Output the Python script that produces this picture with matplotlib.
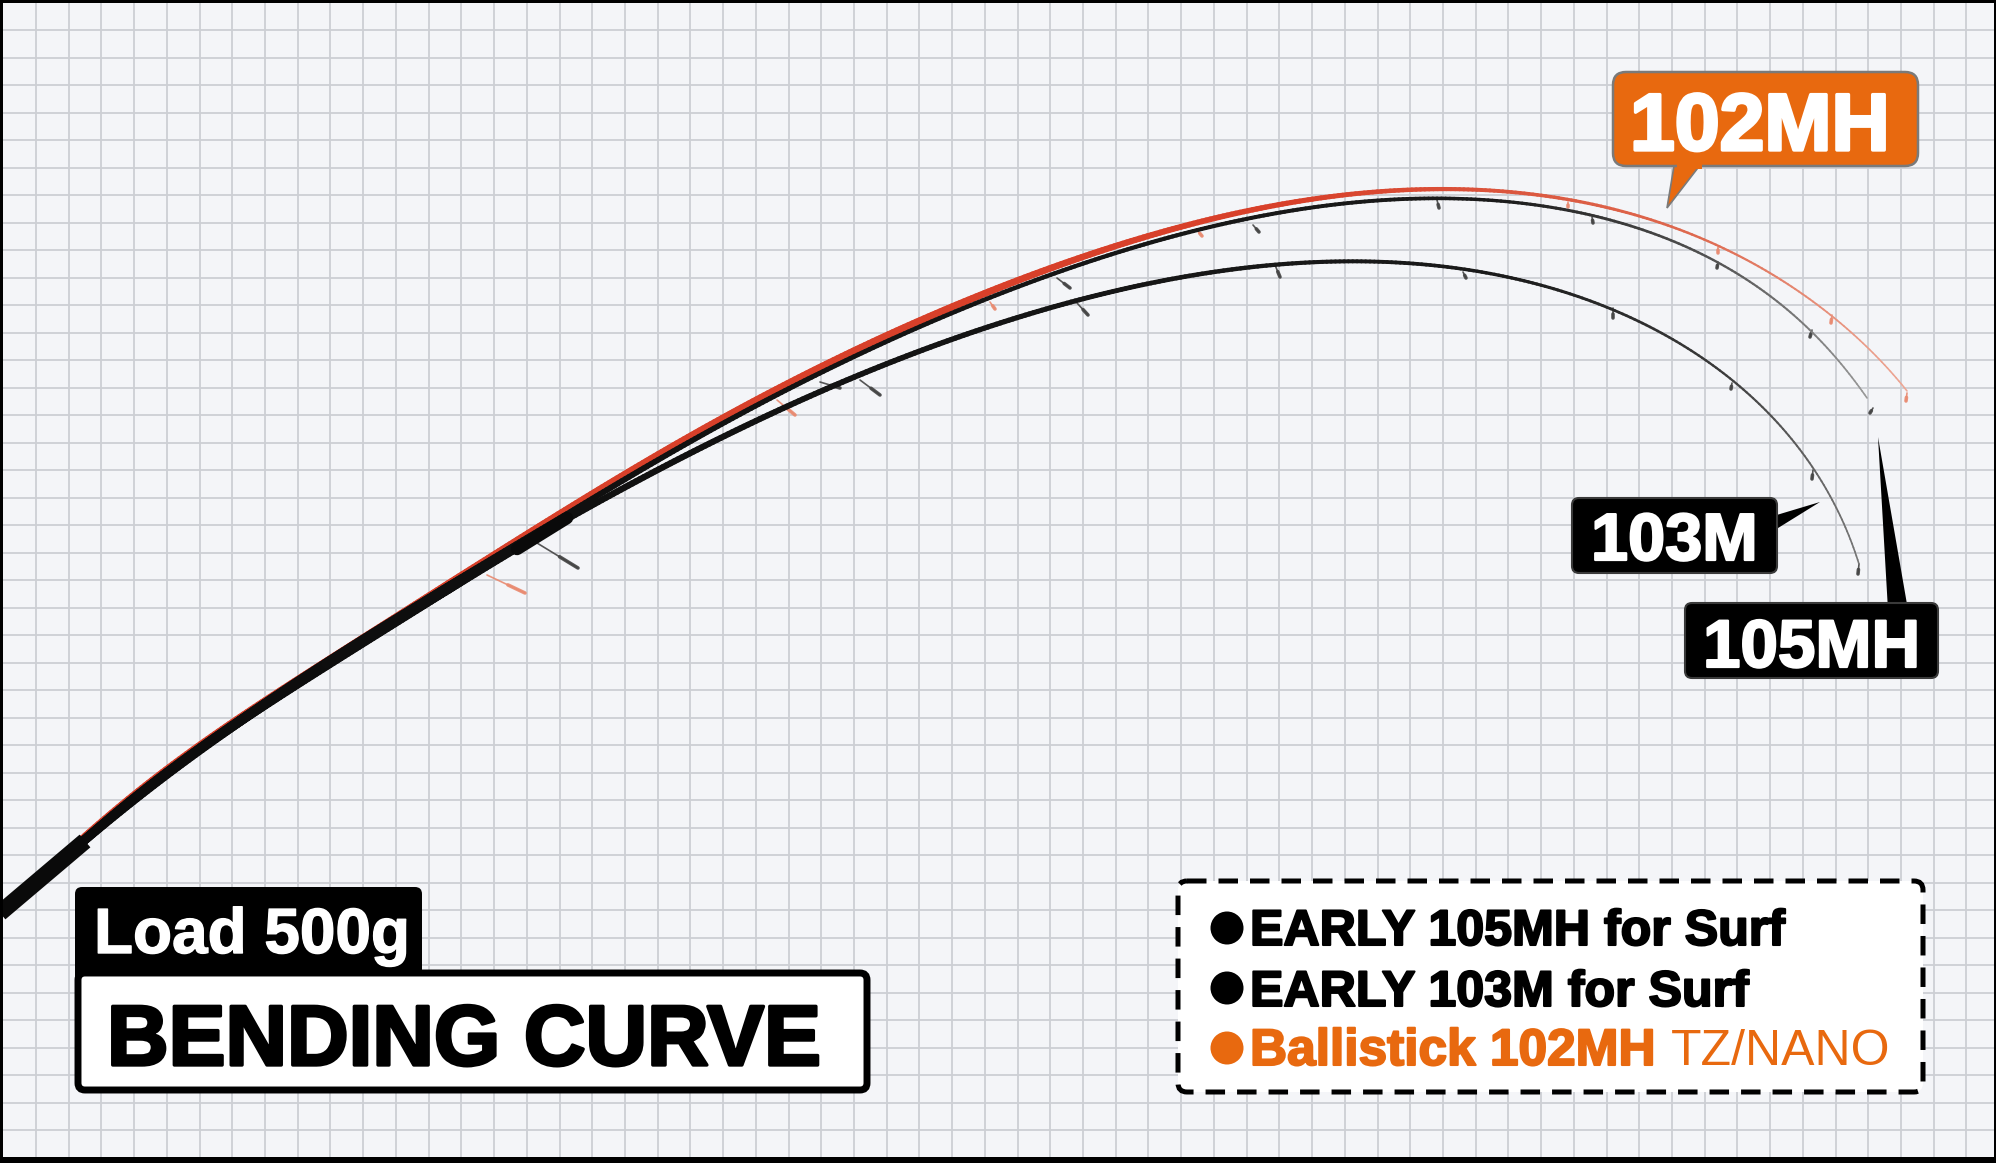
import numpy as np
import matplotlib
matplotlib.use("Agg")
import matplotlib.pyplot as plt
import matplotlib.patheffects as pe
from matplotlib.collections import LineCollection
from matplotlib.colors import to_rgb
from matplotlib.patches import FancyBboxPatch, Polygon, Circle, Rectangle
from numpy.polynomial import Chebyshev

# ---- values (image pixel coordinates) ----
trunk_x = [0, 50, 83, 133, 233, 333, 400, 450, 517]
trunk_y = [912, 867, 842, 803, 723, 660, 618, 587, 547]

red_x = [567, 650, 717, 783, 850, 900, 983, 1067, 1150, 1220, 1267, 1333, 1400, 1450, 1520, 1567, 1633, 1667, 1717, 1767, 1830, 1867, 1907]
red_y = [514, 455, 418, 387, 357, 331, 295, 260, 235, 217, 206, 197, 191, 190, 193, 200, 212, 223, 247, 273, 315, 345, 391]

upper_x = [567, 650, 717, 783, 840, 900, 983, 1067, 1150, 1220, 1267, 1333, 1400, 1467, 1520, 1567, 1600, 1667, 1717, 1767, 1810, 1850, 1867]
upper_y = [519, 459, 423, 393, 365, 338, 301, 267, 241, 226, 215, 205, 199, 199, 203, 210, 218, 238, 262, 293, 332, 373, 398]

lower_x = [573, 650, 717, 783, 850, 900, 983, 1067, 1150, 1220, 1267, 1333, 1367, 1433, 1483, 1550, 1610, 1667, 1717, 1753, 1800, 1833, 1850, 1859]
lower_y = [518, 473, 438, 408, 380, 360, 327, 303, 285, 270, 266, 261, 261, 265, 272, 290, 308, 335, 368, 399, 450, 500, 540, 564]

handle_x = [0, 85]
handle_y = [913, 841]

black_guides = [
    (537, 543, 578, 568), (860, 380, 880, 395), (820, 382, 840, 388), (1057, 278, 1070, 288),
    (1077, 303, 1088, 315), (1253, 225, 1259, 232), (1437, 200, 1439, 208), (1275, 265, 1280, 277),
    (1463, 272, 1466, 278), (1592, 217, 1593, 223), (1718, 262, 1717, 268), (1812, 330, 1810, 337),
    (1613, 308, 1613, 318), (1732, 383, 1731, 389), (1813, 470, 1812, 479), (1859, 564, 1858, 574),
    (1873, 408, 1870, 413),
]
red_guides = [
    (487, 575, 525, 593), (777, 400, 795, 415), (990, 302, 995, 309), (1197, 230, 1202, 236),
    (1568, 202, 1568, 207), (1718, 247, 1718, 253), (1832, 315, 1831, 323), (1907, 393, 1906, 401),
]

legend_bold = ["EARLY 105MH for Surf", "EARLY 103M for Surf", "Ballistick 102MH"]
legend_light = "TZ/NANO"
callouts = ["102MH", "103M", "105MH"]
title = "BENDING CURVE"
load = "Load 500g"

ORANGE = "#E8690F"
BG = "#F4F5F8"
GRID = "#CDCFD4"
BOLD = "Liberation Sans"

fig = plt.figure(figsize=(20, 11.63), dpi=100)
ax = fig.add_axes([0, 0, 1, 1])
ax.set_xlim(0, 2000)
ax.set_ylim(1163, 0)
ax.set_facecolor(BG)
ax.set_xticks(np.arange(36, 1995, 32.72))
ax.set_yticks(np.arange(30, 1157, 27.5))
ax.tick_params(length=0, labelbottom=False, labelleft=False)
ax.grid(True, color=GRID, lw=1.3, zorder=0)
ax.set_axisbelow(True)
for s in ax.spines.values():
    s.set_visible(False)


def smooth(x, y, deg=10, n=500):
    """Smooth least-squares path through the read points, for drawing only."""
    x = np.asarray(x, float)
    y = np.asarray(y, float)
    s = np.r_[0, np.cumsum(np.hypot(np.diff(x), np.diff(y)))]
    w = np.ones_like(s)
    w[0] = w[-1] = 4
    t = np.linspace(0, s[-1], n)
    return np.column_stack([Chebyshev.fit(s, x, deg, w=w)(t), Chebyshev.fit(s, y, deg, w=w)(t)])


def rod(x, y, wx, wpx, cx, cols, z):
    pts = smooth(x, y)
    segs = np.stack([pts[:-1], pts[1:]], axis=1)
    mx = segs[:, :, 0].mean(axis=1)
    lw = np.interp(mx, wx, wpx) * 0.72
    rgb = np.array([to_rgb(c) for c in cols])
    col = np.column_stack([np.interp(mx, cx, rgb[:, i]) for i in range(3)])
    ax.add_collection(LineCollection(segs, linewidths=lw, colors=col, capstyle="round", zorder=z))


w_x = [0, 450, 570, 900, 1400, 1700, 1870]
rod(trunk_x + red_x, [v - 3 for v in trunk_y] + red_y, w_x, [7, 9, 8.5, 7.5, 4.5, 2.4, 1.6],
    [0, 1300, 1700, 1910], ["#D8402A", "#D8402A", "#DE6A50", "#EDA896"], 3)
rod(trunk_x + upper_x, trunk_y + upper_y, w_x, [9, 11, 6, 4.5, 3.8, 2.4, 1.6],
    [0, 1500, 1720, 1870], ["#0A0A0A", "#1A1A1A", "#555555", "#999999"], 4)
rod(trunk_x + lower_x, trunk_y + lower_y, w_x, [9, 11, 6.5, 5.5, 3.8, 2.4, 1.6],
    [0, 1500, 1720, 1860], ["#0A0A0A", "#1A1A1A", "#3A3A3A", "#777777"], 4)
ax.plot(handle_x, handle_y, color="#0A0A0A", lw=12, solid_capstyle="butt", zorder=5)
ax.plot([517, 567], [549, 518], color="#0A0A0A", lw=9, solid_capstyle="round", zorder=4)

for guides, col, alpha in ((red_guides, "#E98A70", 0.9), (black_guides, "#444444", 0.9)):
    for x0, y0, x1, y1 in guides:
        ax.plot([x0, x1], [y0, y1], color=col, lw=1.2, alpha=alpha, zorder=2, solid_capstyle="round")
        ax.plot([x0 * 0.45 + x1 * 0.55, x1], [y0 * 0.45 + y1 * 0.55, y1], color=col, lw=2.6, alpha=alpha, zorder=2, solid_capstyle="round")


def box(x0, y0, x1, y1, fc, ec, lw, r=8, z=6, **kw):
    p = FancyBboxPatch((x0 + r, y0 + r), x1 - x0 - 2 * r, y1 - y0 - 2 * r,
                       boxstyle=f"round,pad={r},rounding_size={r}", fc=fc, ec=ec, lw=lw, zorder=z, **kw)
    ax.add_patch(p)


def label(x, y, s, size, color, stroke=1.0, family=BOLD, weight="bold", z=8):
    return ax.text(x, y, s, fontsize=size, color=color, family=family, weight=weight, ha="left", va="baseline", zorder=z,
                   path_effects=[pe.withStroke(linewidth=stroke, foreground=color)] if stroke else None)


# title block
box(75, 887, 422, 985, "#000000", "#000000", 0, r=7)
label(94, 953, load, 46, "white", 1.0)
box(78, 973, 867, 1090, "white", "#000000", 5, r=7, z=7)
label(107, 1065, title, 61.4, "#000000", 2.4)

# legend
box(1178, 881, 1923, 1092, "white", "#000000", 3.6, r=9, linestyle=(0, (3.9, 2.4)))
for cy, c in zip((928, 988, 1048), ("#000000", "#000000", ORANGE)):
    ax.add_patch(Circle((1227, cy), 16.5, fc=c, ec="none", zorder=8))
for by, s, c, sz in zip((945, 1006, 1065), legend_bold, ("#000000", "#000000", ORANGE), (36.1, 36.1, 37)):
    label(1250, by, s, sz, c, 1.5)
label(1671, 1065, legend_light, 36, ORANGE, 0, family=["Liberation Sans Narrow", "Liberation Sans"], weight="normal")

# callouts
ax.add_patch(Polygon([(1675, 160), (1667, 208), (1704, 160)], fc=ORANGE, ec="#7A7A7A", lw=1.2, zorder=5))
box(1613, 72, 1918, 166, ORANGE, "#7A7A7A", 1.8, r=13, z=6)
ax.add_patch(Rectangle((1677, 160), 25, 9, fc=ORANGE, ec="none", zorder=7))
label(1630, 150, callouts[0], 58, "white", 2.4)

ax.add_patch(Polygon([(1770, 517), (1820, 502), (1770, 533)], fc="#000000", ec="none", zorder=5))
box(1572, 498, 1777, 573, "#000000", "#3A3A3A", 1.5, r=7)
label(1591, 560, callouts[1], 48, "white", 1.6)

ax.add_patch(Polygon([(1878, 437), (1888, 610), (1908, 610)], fc="#000000", ec="none", zorder=5))
box(1685, 603, 1938, 678, "#000000", "#3A3A3A", 1.5, r=7)
label(1703, 667, callouts[2], 48.5, "white", 1.6)

# frame: black edge, then a thin white sliver at the far right
for xy, w, h, c in (((0, 0), 1996, 3, "#000000"), ((0, 0), 3, 1163, "#000000"), ((0, 1157), 1996, 6, "#000000"),
                    ((1994, 0), 2, 1163, "#000000"), ((1996, 0), 4, 1163, "white")):
    ax.add_patch(Rectangle(xy, w, h, fc=c, ec="none", zorder=10))

fig.savefig("out.png", dpi=100, facecolor=BG)
